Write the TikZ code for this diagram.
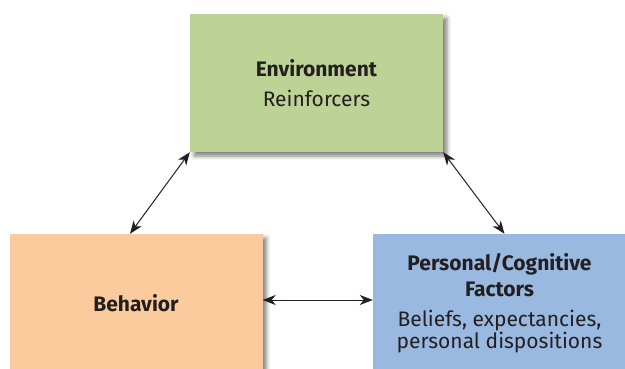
\documentclass[tikz,border=0pt]{standalone}
\usepackage{fontspec}
\setmainfont{Fira Sans}
\usetikzlibrary{positioning,arrows.meta,shadows.blur}
\definecolor{envGreen}{HTML}{BDD395}
\definecolor{behOrange}{HTML}{FBCB9D}
\definecolor{persBlue}{HTML}{9AB9E1}
\definecolor{inkGray}{HTML}{231F20}

\tikzset{
  factorbox/.style={minimum width=253pt,minimum height=138pt,inner sep=0pt,
    align=center,text=inkGray,font=\fontsize{21}{20}\selectfont,
    blur shadow={shadow xshift=4pt,shadow yshift=-4pt,shadow blur radius=4pt,shadow opacity=50}},
  link/.style={{Stealth[length=13pt,width=10pt,inset=4pt]}-{Stealth[length=13pt,width=10pt,inset=4pt]},
    line width=1pt,inkGray}
}

\begin{document}
\begin{tikzpicture}[x=1pt,y=-1pt]
  \useasboundingbox (0,0) rectangle (625,369);
  % the three factors
  \node[factorbox,fill=envGreen] (env) at (316.5,83)
    {\textbf{Environment}\\[10pt]Reinforcers};
  \node[factorbox,fill=behOrange] (beh) at (136,303) {\textbf{Behavior}};
  \node[factorbox,fill=persBlue] (pers) at (499.5,303)
    {\textbf{Personal/Cognitive}\\[6pt]\textbf{Factors}\\[10.5pt]Beliefs, expectancies,\\personal dispositions};
  % reciprocal links
  \draw[link] ([xshift=-6pt]beh.north) -- (env.south west);
  \draw[link] (env.south east) -- ([xshift=5pt]pers.north);
  \draw[link] ([yshift=3pt]beh.east) -- ([yshift=3pt]pers.west);
\end{tikzpicture}
\end{document}
